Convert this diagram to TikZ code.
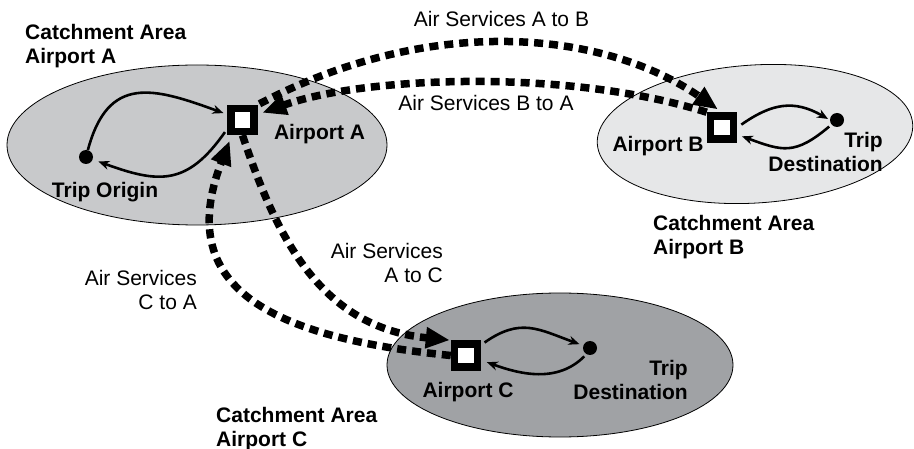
\documentclass[tikz,border=0pt]{standalone}
\usepackage{fontspec}
\setmainfont{Liberation Sans}
\usetikzlibrary{arrows.meta}
\definecolor{areaA}{RGB}{200,201,203}
\definecolor{areaB}{RGB}{230,231,232}
\definecolor{areaC}{RGB}{160,162,165}
\begin{document}
\begin{tikzpicture}[x=1pt,y=1pt,
  area/.style={draw=black,line width=0.8pt},
  txt/.style={inner sep=0pt,font=\fontsize{21}{24}\selectfont},
  heading/.style={inner sep=0pt,font=\fontsize{21}{24}\selectfont\bfseries},
  airport/.style={draw=black,fill=white,line width=7.5pt,minimum size=23pt,inner sep=0pt},
  place/.style={circle,fill=black,minimum size=14pt,inner sep=0pt},
  trip/.style={line width=2.6pt,-{Stealth[length=11pt,width=9pt]}},
  airlink/.style={line width=7.5pt,dash pattern=on 9pt off 6pt,-{Triangle[length=24pt,width=20pt]}}]

\useasboundingbox (0,0) rectangle (914,-449);

% catchment areas
\draw[area,fill=areaA] (197,-145) ellipse [x radius=190, y radius=80];
\draw[area,fill=areaB,rotate around={3.6:(755,-134)}] (755,-134) ellipse [x radius=158, y radius=69];
\draw[area,fill=areaC] (560,-365) ellipse [x radius=173, y radius=72];

% airports and trip ends
\node[airport] (apA) at (242.5,-120) {};
\node[airport] (apB) at (722,-127.5) {};
\node[airport] (apC) at (466,-355.5) {};
\node[place] (origA) at (86,-157) {};
\node[place] (destB) at (837,-120) {};
\node[place] (destC) at (590,-348) {};

% labels
\node[heading,anchor=north west,align=left] (catA) at (25,-23.7) {Catchment Area\\Airport A};
\node[heading,anchor=north west,align=left] (catB) at (653,-214.7) {Catchment Area\\Airport B};
\node[heading,anchor=north west,align=left] (catC) at (216,-406.7) {Catchment Area\\Airport C};
\node[heading,anchor=base] (labA) at (319.5,-140) {Airport A};
\node[heading,anchor=base] (labB) at (658,-152) {Airport B};
\node[heading,anchor=base] (labC) at (468,-397) {Airport C};
\node[heading,anchor=base] (labO) at (105,-198) {Trip Origin};
\node[heading,anchor=north east,align=right] (labDB) at (883,-132) {Trip\\Destination};
\node[heading,anchor=north east,align=right] (labDC) at (688,-360) {Trip\\Destination};
\node[txt,anchor=base] (sAB) at (501.5,-27) {Air Services A to B};
\node[txt,anchor=base] (sBA) at (486,-111) {Air Services B to A};
\node[txt,anchor=north east,align=right] (sAC) at (443,-242.6) {Air Services\\A to C};
\node[txt,anchor=north east,align=right] (sCA) at (197,-269.6) {Air Services\\C to A};

% access trips inside each catchment area
\draw[trip,shorten >=4pt] (origA) to[out=75,in=160,looseness=1.4] (apA);
\draw[trip,shorten <=4pt,shorten >=6pt] (apA.210) to[out=235,in=340,looseness=1.3] (origA);
\draw[trip,shorten <=5pt,shorten >=2pt] (apB.east) to[out=35,in=150,looseness=1.15] (destB.west);
\draw[trip,shorten <=3pt,shorten >=5pt] (destB.220) to[out=220,in=-20,looseness=1.3] (apB.-25);
\draw[trip,shorten <=4pt,shorten >=4pt] (apC.35) to[out=35,in=160,looseness=1.2] (destC);
\draw[trip,shorten <=3pt,shorten >=6pt] (destC.240) to[out=225,in=-20,looseness=1.0] (apC.-17);

% air services between airports
\draw[airlink,shorten <=2pt,shorten >=5pt] (apA.north east) .. controls +(177,93) and +(-115,80) .. (apB.north);
\draw[airlink,shorten >=5pt] (apB.north west) .. controls +(-140,44) and +(106,38) .. (apA.20);
\draw[airlink,shorten >=1pt] (apA.south) .. controls +(35,-105) and +(-129,13) .. (apC.north west);
\draw[airlink,shorten >=6pt] (apC.west) .. controls +(-169,17) and +(-61,-158) .. (apA.235);
\end{tikzpicture}
\end{document}
